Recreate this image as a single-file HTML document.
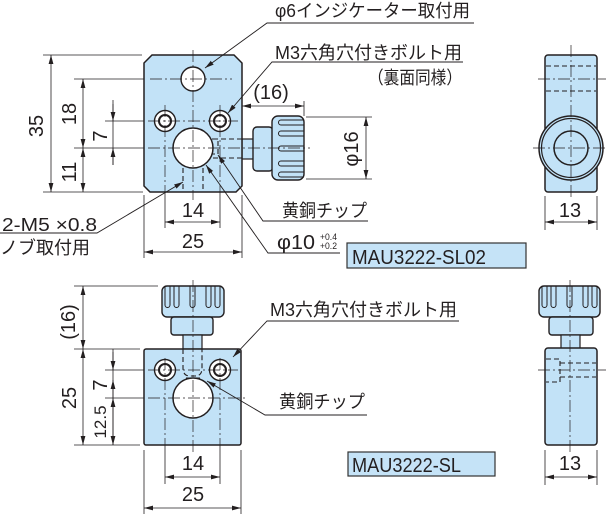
<!DOCTYPE html>
<html>
<head>
<meta charset="utf-8">
<style>
html,body{margin:0;padding:0;background:#fff;}
svg{display:block;}
text{font-family:"Liberation Sans","Noto Sans CJK JP",sans-serif;fill:#231f20;}
</style>
</head>
<body>
<svg width="606" height="516" viewBox="0 0 606 516" xmlns="http://www.w3.org/2000/svg">
<defs>
<marker id="ar" markerUnits="userSpaceOnUse" markerWidth="9" markerHeight="6" refX="9" refY="3" orient="auto-start-reverse" viewBox="0 0 9 6">
<path d="M0,0.6 L9,3 L0,5.4z" fill="#231f20"/>
</marker>
</defs>

<g fill="none" stroke="#231f20">

<!-- ================= TOP-LEFT VIEW ================= -->
<!-- hidden shaft segment outside block -->
<rect x="242" y="139" width="12" height="20" fill="#c2e2f7" stroke-width="1.2"/>
<!-- knob hub -->
<rect x="253" y="127" width="20" height="44" rx="4" fill="#c2e2f7" stroke-width="1.4"/>
<!-- knob body -->
<rect x="272" y="116" width="32" height="64" rx="6" fill="#c2e2f7" stroke-width="1.4"/>
<g stroke-width="1">
<path d="M304,120 H281 A2.5,2.5 0 0 0 281,125 H304"/>
<path d="M304,131 H281 A2.5,2.5 0 0 0 281,136 H304"/>
<path d="M304,146 H281 A2.5,2.5 0 0 0 281,151 H304"/>
<path d="M304,161 H281 A2.5,2.5 0 0 0 281,166 H304"/>
<path d="M304,172 H281 A2.5,2.5 0 0 0 281,177 H304"/>
</g>

<!-- block -->
<path d="M144,63 L152,55 L234,55 L242,63 L242,186 L236,192 L150,192 L144,186 Z" fill="#c2e2f7" stroke-width="1.5"/>
<!-- holes -->
<circle cx="193" cy="79" r="12" fill="#fff" stroke-width="1.4"/>
<circle cx="165" cy="121" r="10.5" fill="#fff" stroke-width="1.4"/>
<circle cx="165" cy="121" r="6" fill="#fff" stroke-width="2"/>
<circle cx="220" cy="121" r="10.5" fill="#fff" stroke-width="1.4"/>
<circle cx="220" cy="121" r="6" fill="#fff" stroke-width="2"/>
<circle cx="193" cy="148" r="20" fill="#fff" stroke-width="1.5"/>
<!-- hidden lines -->
<g stroke-width="1.1" stroke-dasharray="5 3">
<line x1="213" y1="139" x2="242" y2="139"/>
<line x1="213" y1="158" x2="242" y2="158"/>
<line x1="183" y1="168" x2="183" y2="191"/>
<line x1="203" y1="168" x2="203" y2="191"/>
<path d="M212,139 H218 V154 H212"/>
</g>

<!-- centerlines -->
<g stroke-width="0.7" stroke-dasharray="12 3 2 3">
<line x1="193" y1="50" x2="193" y2="200"/>
<line x1="150" y1="79" x2="232" y2="79"/>
<line x1="148" y1="121" x2="238" y2="121"/>
<line x1="148" y1="148" x2="310" y2="148"/>
<line x1="165" y1="105" x2="165" y2="192"/>
<line x1="220" y1="105" x2="220" y2="192"/>
</g>

<!-- extension lines -->
<g stroke-width="0.8">
<line x1="43" y1="55" x2="142" y2="55"/>
<line x1="43" y1="192" x2="143" y2="192"/>
<line x1="74" y1="79" x2="144" y2="79"/>
<line x1="105" y1="121" x2="144" y2="121"/>
<line x1="74" y1="148" x2="144" y2="148"/>
<line x1="165" y1="192" x2="165" y2="228"/>
<line x1="220" y1="192" x2="220" y2="228"/>
<line x1="144" y1="195" x2="144" y2="258"/>
<line x1="242" y1="195" x2="242" y2="258"/>
<line x1="304" y1="101" x2="304" y2="116"/>
<line x1="306" y1="117" x2="372" y2="117"/>
<line x1="306" y1="179" x2="372" y2="179"/>
</g>

<!-- dimension lines -->
<g stroke-width="0.8">
<line x1="51" y1="55" x2="51" y2="192" marker-start="url(#ar)" marker-end="url(#ar)"/>
<line x1="83" y1="79" x2="83" y2="148" marker-start="url(#ar)" marker-end="url(#ar)"/>
<line x1="83" y1="148" x2="83" y2="192" marker-start="url(#ar)" marker-end="url(#ar)"/>
<line x1="113" y1="100" x2="113" y2="165"/>
<line x1="113" y1="104" x2="113" y2="121" marker-end="url(#ar)"/>
<line x1="113" y1="165" x2="113" y2="148" marker-end="url(#ar)"/>
<line x1="165" y1="222" x2="220" y2="222" marker-start="url(#ar)" marker-end="url(#ar)"/>
<line x1="144" y1="252" x2="242" y2="252" marker-start="url(#ar)" marker-end="url(#ar)"/>
<line x1="242" y1="106" x2="304" y2="106" marker-start="url(#ar)" marker-end="url(#ar)"/>
<line x1="366" y1="117" x2="366" y2="179" marker-start="url(#ar)" marker-end="url(#ar)"/>
</g>

<!-- leaders & underlines -->
<g stroke-width="0.9">
<polyline points="474,23 267,23 205,68" marker-end="url(#ar)"/>
<polyline points="463,62 272,62 228,113" marker-end="url(#ar)"/>
<polyline points="0,233 97,233 183,182" marker-end="url(#ar)"/>
<polyline points="368,221 263,221 218,155" marker-end="url(#ar)"/>
<polyline points="340,253 268,253 206,165" marker-end="url(#ar)"/>
</g>

<!-- ================= TOP-RIGHT SIDE VIEW ================= -->
<rect x="545" y="55" width="52" height="137" rx="3" fill="#c2e2f7" stroke-width="1.5"/>
<g stroke-width="1.1" stroke-dasharray="5 3">
<line x1="546" y1="66" x2="596" y2="66"/>
<line x1="546" y1="91" x2="596" y2="91"/>
</g>
<circle cx="571" cy="148" r="32" fill="#c2e2f7" stroke-width="1.5"/>
<circle cx="571" cy="148" r="29.5" stroke-width="1.2"/>
<circle cx="571" cy="148" r="17" stroke-width="1.5"/>
<g stroke-width="0.7" stroke-dasharray="12 3 2 3">
<line x1="538" y1="79" x2="606" y2="79"/>
<line x1="571" y1="45" x2="571" y2="198"/>
<line x1="533" y1="148" x2="606" y2="148"/>
</g>
<g stroke-width="0.8">
<line x1="545" y1="196" x2="545" y2="230"/>
<line x1="597" y1="196" x2="597" y2="230"/>
<line x1="545" y1="222" x2="597" y2="222" marker-start="url(#ar)" marker-end="url(#ar)"/>
</g>

<!-- ================= BOTTOM-LEFT VIEW ================= -->
<rect x="162" y="286" width="62" height="31" rx="5" fill="#c2e2f7" stroke-width="1.4"/>
<g stroke-width="1">
<path d="M165,286 V305 A2.5,2.5 0 0 0 170,305 V286"/>
<path d="M174,286 V305 A2.5,2.5 0 0 0 179,305 V286"/>
<path d="M190,286 V305 A2.5,2.5 0 0 0 195,305 V286"/>
<path d="M206,286 V305 A2.5,2.5 0 0 0 211,305 V286"/>
<path d="M215,286 V305 A2.5,2.5 0 0 0 220,305 V286"/>
</g>
<rect x="171" y="317" width="42" height="18" rx="3" fill="#c2e2f7" stroke-width="1.4"/>
<rect x="183" y="335" width="19" height="14" fill="#c2e2f7" stroke-width="1.2"/>
<rect x="144" y="349" width="97" height="96" rx="2" fill="#c2e2f7" stroke-width="1.5"/>
<circle cx="165" cy="370" r="10.5" fill="#fff" stroke-width="1.4"/>
<circle cx="165" cy="370" r="6" fill="#fff" stroke-width="2"/>
<circle cx="220" cy="370" r="10.5" fill="#fff" stroke-width="1.4"/>
<circle cx="220" cy="370" r="6" fill="#fff" stroke-width="2"/>
<circle cx="193" cy="398" r="20" fill="#fff" stroke-width="1.5"/>
<path d="M183,349 V368 Q183,376 190,376 H195 Q202,376 202,368 V349" stroke-width="1.1" stroke-dasharray="5 3"/>
<line x1="186" y1="378" x2="200" y2="378" stroke-width="1"/>
<g stroke-width="0.7" stroke-dasharray="12 3 2 3">
<line x1="193" y1="280" x2="193" y2="455"/>
<line x1="148" y1="370" x2="238" y2="370"/>
<line x1="148" y1="398" x2="248" y2="398"/>
<line x1="165" y1="358" x2="165" y2="445"/>
<line x1="220" y1="358" x2="220" y2="445"/>
</g>
<g stroke-width="0.8">
<line x1="74" y1="286" x2="158" y2="286"/>
<line x1="74" y1="349" x2="140" y2="349"/>
<line x1="74" y1="445" x2="140" y2="445"/>
<line x1="105" y1="370" x2="144" y2="370"/>
<line x1="105" y1="398" x2="144" y2="398"/>
<line x1="165" y1="445" x2="165" y2="484"/>
<line x1="220" y1="445" x2="220" y2="484"/>
<line x1="144" y1="450" x2="144" y2="514"/>
<line x1="241" y1="450" x2="241" y2="514"/>
<line x1="83" y1="286" x2="83" y2="349" marker-start="url(#ar)" marker-end="url(#ar)"/>
<line x1="83" y1="349" x2="83" y2="445" marker-start="url(#ar)" marker-end="url(#ar)"/>
<line x1="113" y1="349" x2="113" y2="445"/>
<line x1="113" y1="352" x2="113" y2="370" marker-end="url(#ar)"/>
<line x1="113" y1="398" x2="113" y2="380" marker-end="url(#ar)"/>
<line x1="113" y1="398" x2="113" y2="445" marker-start="url(#ar)" marker-end="url(#ar)"/>
<line x1="165" y1="477" x2="220" y2="477" marker-start="url(#ar)" marker-end="url(#ar)"/>
<line x1="144" y1="508" x2="241" y2="508" marker-start="url(#ar)" marker-end="url(#ar)"/>
</g>
<g stroke-width="0.9">
<polyline points="459,321 267,321 233,357" marker-end="url(#ar)"/>
<polyline points="367,415 265,415 207,381" marker-end="url(#ar)"/>
</g>

<!-- ================= BOTTOM-RIGHT SIDE VIEW ================= -->
<rect x="539" y="286" width="61" height="31" rx="5" fill="#c2e2f7" stroke-width="1.4"/>
<g stroke-width="1">
<path d="M542,286 V305 A2.5,2.5 0 0 0 547,305 V286"/>
<path d="M551,286 V305 A2.5,2.5 0 0 0 556,305 V286"/>
<path d="M567,286 V305 A2.5,2.5 0 0 0 572,305 V286"/>
<path d="M583,286 V305 A2.5,2.5 0 0 0 588,305 V286"/>
<path d="M592,286 V305 A2.5,2.5 0 0 0 597,305 V286"/>
</g>
<rect x="549" y="317" width="44" height="18" rx="3" fill="#c2e2f7" stroke-width="1.4"/>
<rect x="561" y="335" width="19" height="14" fill="#c2e2f7" stroke-width="1.2"/>
<rect x="545" y="348" width="52" height="97" rx="3" fill="#c2e2f7" stroke-width="1.5"/>
<g stroke-width="1.1" stroke-dasharray="5 3">
<path d="M546,359 H560 V382 H546"/>
<line x1="560" y1="363" x2="596" y2="363"/>
<line x1="560" y1="377" x2="596" y2="377"/>
</g>
<g stroke-width="0.7" stroke-dasharray="12 3 2 3">
<line x1="570" y1="280" x2="570" y2="452"/>
<line x1="538" y1="370" x2="606" y2="370"/>
</g>
<g stroke-width="0.8">
<line x1="545" y1="450" x2="545" y2="485"/>
<line x1="597" y1="450" x2="597" y2="485"/>
<line x1="545" y1="477" x2="597" y2="477" marker-start="url(#ar)" marker-end="url(#ar)"/>
</g>

<!-- boxes -->
<rect x="347" y="243" width="179" height="25" fill="#c5e3f7" stroke="#333" stroke-width="1.2"/>
<rect x="348" y="452" width="147" height="24" fill="#c5e3f7" stroke="#333" stroke-width="1.2"/>
</g>

<!-- ================= TEXT ================= -->
<g font-size="20" text-anchor="middle">
<text transform="translate(36,126) rotate(-90)" dy="7">35</text>
<text transform="translate(69,114) rotate(-90)" dy="7">18</text>
<text transform="translate(69,172) rotate(-90)" dy="7">11</text>
<text transform="translate(100,136) rotate(-90)" dy="7">7</text>
<text x="193" y="217">14</text>
<text x="193" y="248">25</text>
<text x="271" y="99">(16)</text>
<text transform="translate(351,149) rotate(-90)" dy="7">φ16</text>
<text x="570" y="217">13</text>

<text transform="translate(68,322) rotate(-90)" dy="7">(16)</text>
<text transform="translate(69,398) rotate(-90)" dy="7">25</text>
<text transform="translate(100,385) rotate(-90)" dy="7">7</text>
<text transform="translate(100,422) rotate(-90)" dy="6" font-size="17">12.5</text>
<text x="193" y="470">14</text>
<text x="193" y="501">25</text>
<text x="570" y="470">13</text>
</g>

<g font-size="18">
<text x="275" y="17" textLength="195" lengthAdjust="spacingAndGlyphs">φ6インジケーター取付用</text>
<text x="275" y="59" textLength="187" lengthAdjust="spacingAndGlyphs">M3六角穴付きボルト用</text>
<text x="368" y="84" textLength="94" lengthAdjust="spacingAndGlyphs">（裏面同様）</text>
<text x="2" y="231" textLength="95" lengthAdjust="spacingAndGlyphs">2-M5 ×0.8</text>
<text x="0" y="254" textLength="90" lengthAdjust="spacingAndGlyphs">ノブ取付用</text>
<text x="282" y="217" textLength="85" lengthAdjust="spacingAndGlyphs">黄銅チップ</text>
<text x="277" y="249" font-size="20" textLength="38" lengthAdjust="spacingAndGlyphs">φ10</text>
<text x="320" y="240" font-size="9" textLength="17" lengthAdjust="spacingAndGlyphs">+0.4</text>
<text x="320" y="249" font-size="9" textLength="17" lengthAdjust="spacingAndGlyphs">+0.2</text>
<text x="270" y="316" textLength="187" lengthAdjust="spacingAndGlyphs">M3六角穴付きボルト用</text>
<text x="279" y="408" textLength="86" lengthAdjust="spacingAndGlyphs">黄銅チップ</text>
</g>

<g font-size="20">
<text x="352" y="264" textLength="134" lengthAdjust="spacingAndGlyphs">MAU3222-SL02</text>
<text x="352" y="472" textLength="109" lengthAdjust="spacingAndGlyphs">MAU3222-SL</text>
</g>
</svg>
</body>
</html>
